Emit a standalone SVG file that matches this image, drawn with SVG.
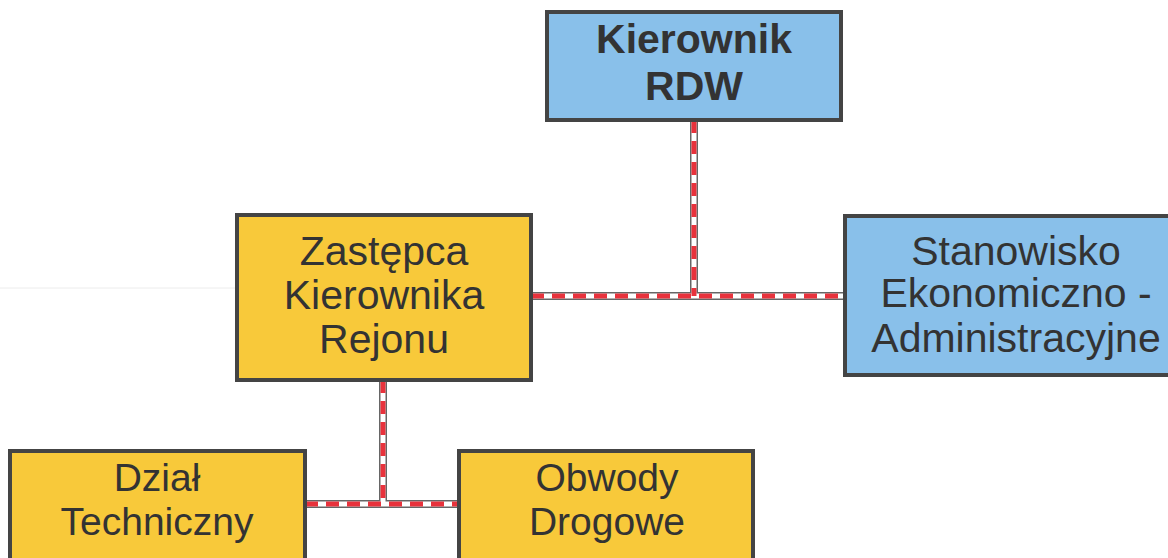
<svg xmlns="http://www.w3.org/2000/svg" width="1168" height="558" viewBox="0 0 1168 558">
<style>
.box{stroke:#444;stroke-width:4}
.blue{fill:#89c0ea}
.yellow{fill:#f8c93a}
.t{font-family:"Liberation Sans",Arial,sans-serif;font-size:41px;fill:#333;text-anchor:middle}
.s{font-size:39px}
.b{font-weight:bold}
.edge{fill:none;stroke:#666;stroke-width:8}
.core{fill:none;stroke:#fff;stroke-width:5}
.dash{fill:none;stroke:#e8323c;stroke-width:5;stroke-dasharray:13 8}
</style>
<rect width="1168" height="558" fill="#fff"/>
<line x1="0" y1="288" x2="237" y2="288" stroke="#ececec" stroke-width="1"/>
<g id="connectors">
<path class="edge" d="M694 120V296M531 296H845M383 380V504M305 504H459"/>
<path class="core" d="M694 120V296M531 296H845M383 380V504M305 504H459"/>
<path class="dash" d="M694 120V296M531 296H845M383 380V504M305 504H459"/>
</g>
<g id="kierownik">
<rect class="box blue" x="547" y="12" width="294" height="108"/>
<text class="t b" x="694" y="53">Kierownik</text>
<text class="t b" x="694" y="100">RDW</text>
</g>
<g id="zastepca">
<rect class="box yellow" x="237" y="215" width="294" height="165"/>
<text class="t" x="384" y="265">Zastępca</text>
<text class="t" x="384" y="309">Kierownika</text>
<text class="t" x="384" y="353">Rejonu</text>
</g>
<g id="stanowisko">
<rect class="box blue" x="845" y="216" width="345" height="159"/>
<text class="t" x="1016" y="265">Stanowisko</text>
<text class="t" x="1016" y="307">Ekonomiczno -</text>
<text class="t" x="1016" y="352">Administracyjne</text>
</g>
<g id="dzial">
<rect class="box yellow" x="10" y="451" width="295" height="120"/>
<text class="t s" x="157" y="491">Dział</text>
<text class="t s" x="157" y="535">Techniczny</text>
</g>
<g id="obwody">
<rect class="box yellow" x="459" y="451" width="294" height="120"/>
<text class="t s" x="607" y="491">Obwody</text>
<text class="t s" x="607" y="535">Drogowe</text>
</g>
</svg>
